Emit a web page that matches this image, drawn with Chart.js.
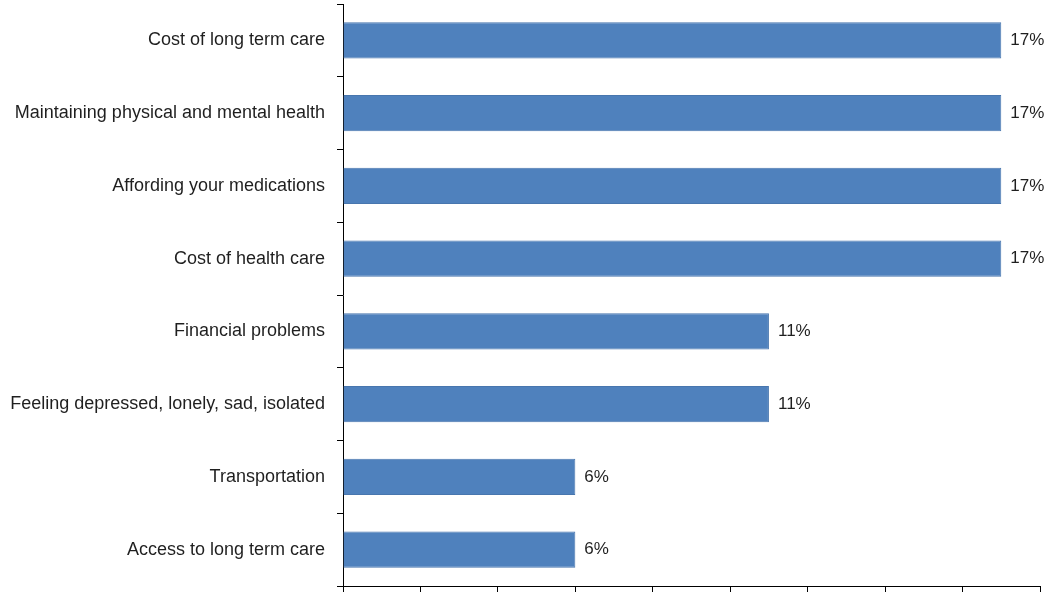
<!DOCTYPE html>
<html lang="en">
<head>
    <meta charset="UTF-8">
    <title>Concerns</title>
    <style>
        html, body { margin: 0; padding: 0; background: #fff; }
        #wrap { width: 1045px; height: 592px; }
    </style>
</head>
<body>
<div id="wrap"><canvas id="myChart" width="1045" height="592"></canvas></div>

<script src="https://cdn.jsdelivr.net/npm/chart.js@4/dist/chart.umd.min.js"></script>
<script>
    // data
    var categories = [
        'Cost of long term care',
        'Maintaining physical and mental health',
        'Affording your medications',
        'Cost of health care',
        'Financial problems',
        'Feeling depressed, lonely, sad, isolated',
        'Transportation',
        'Access to long term care'
    ];
    var percents = [17, 17, 17, 17, 11, 11, 6, 6];
    var axisMax = 18;
    var axisStep = 2;

    var fontFamily = '"Liberation Sans", Arial, sans-serif';

    // writes "17%" etc. just past the end of each bar
    var barLabels = {
        id: 'barLabels',
        afterDatasetsDraw: function (chart) {
            var ctx = chart.ctx;
            var meta = chart.getDatasetMeta(0);
            ctx.save();
            ctx.font = '17px ' + fontFamily;
            ctx.fillStyle = '#1f1f1f';
            ctx.textAlign = 'left';
            ctx.textBaseline = 'middle';
            meta.data.forEach(function (bar, i) {
                ctx.fillText(percents[i] + '%', bar.x + 9, bar.y);
            });
            ctx.restore();
        }
    };

    var ctx = document.getElementById('myChart').getContext('2d');
    var myChart = new Chart(ctx, {
        type: 'bar',
        data: {
            labels: categories,
            datasets: [{
                data: percents,
                backgroundColor: '#4F81BD',
                borderColor: '#4876AE',
                borderWidth: 1,
                barPercentage: 0.5,
                categoryPercentage: 1.0
            }]
        },
        options: {
            indexAxis: 'y',
            responsive: false,
            animation: false,
            layout: { padding: { top: 4, right: 5, bottom: 0, left: 0 } },
            plugins: {
                legend: { display: false },
                tooltip: { enabled: false }
            },
            scales: {
                x: {
                    min: 0,
                    max: axisMax,
                    afterFit: function (scale) {
                        scale.height = 6;
                        scale.paddingLeft = 0;
                        scale.paddingRight = 0;
                    },
                    ticks: { display: false, stepSize: axisStep },
                    grid: {
                        drawOnChartArea: false,
                        drawTicks: true,
                        tickLength: 6,
                        color: '#000'
                    },
                    border: { color: '#000', width: 1 }
                },
                y: {
                    afterFit: function (scale) {
                        scale.width = 343;
                        scale.paddingTop = 0;
                        scale.paddingBottom = 0;
                    },
                    ticks: {
                        color: '#1f1f1f',
                        padding: 12,
                        font: { size: 18, family: fontFamily }
                    },
                    grid: {
                        offset: true,
                        drawOnChartArea: false,
                        drawTicks: true,
                        tickLength: 6,
                        color: '#000'
                    },
                    border: { color: '#000', width: 1 }
                }
            }
        },
        plugins: [barLabels]
    });
</script>
</body>
</html>
